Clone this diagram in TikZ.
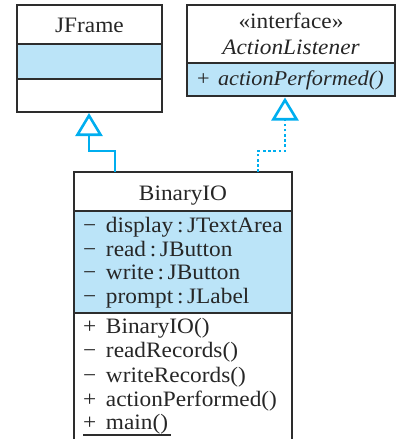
\documentclass[tikz,border=0pt]{standalone}
\usepackage{fontspec}
\setmainfont{Liberation Serif}[FakeStretch=1.06]
\usetikzlibrary{arrows.meta}
\definecolor{umlcyan}{RGB}{0,174,239}
\definecolor{umlfill}{RGB}{187,228,248}
\definecolor{umlline}{RGB}{45,45,45}
\newcommand{\vis}[1]{\makebox[23pt][l]{#1}}
\begin{document}
\begin{tikzpicture}[x=1pt,y=-1pt,
  boxline/.style={draw=umlline, line width=1.3pt},
  umlbox/.style={boxline, rectangle, inner sep=0pt, outer sep=0pt, anchor=north west},
  txt/.style={inner sep=0pt, outer sep=0pt, font=\fontsize{22}{24}\selectfont, text=black!85},
  member/.style={txt, anchor=base west},
  title/.style={txt, anchor=base},
  gen/.style={draw=umlcyan, line width=2.6pt, -{Triangle[open, length=23pt, width=27pt, line width=2.6pt]}},
  real/.style={gen, dash pattern=on 2.6pt off 2.6pt}
]
\useasboundingbox (0,0) rectangle (404,439);
% compartment fills
\fill[umlfill] (17,44) rectangle (162,79);
\fill[umlfill] (187,63) rectangle (395,96);
\fill[umlfill] (74,211) rectangle (292,313);
% boxes
\node[umlbox, minimum width=145pt, minimum height=107pt] (jframe) at (17,5) {};
\node[umlbox, minimum width=208pt, minimum height=91pt] (listener) at (187,5) {};
\node[umlbox, minimum width=218pt, minimum height=272pt] (binio) at (74,172) {};
% compartment lines
\draw[boxline] (17,44) -- (162,44);
\draw[boxline] (17,79) -- (162,79);
\draw[boxline] (187,63) -- (395,63);
\draw[boxline] (74,211) -- (292,211);
\draw[boxline] (74,313) -- (292,313);
% texts
\node[title] (tjf) at (89.5,32) {JFrame};
\node[title] (tst) at (291,28) {«interface»};
\node[title] (tal) at (291,54) {\itshape ActionListener};
\node[member, font=\fontsize{21}{24}\selectfont] (tap) at (197,85) {\makebox[21pt][l]{+}\itshape actionPerformed()};
\node[title] (tbn) at (183,200) {BinaryIO};
\node[member] (a1) at (83,232) {\vis{−}display\,:\,JTextArea};
\node[member] (a2) at (83,256) {\vis{−}read\,:\,JButton};
\node[member] (a3) at (83,279.5) {\vis{−}write\,:\,JButton};
\node[member] (a4) at (83,303) {\vis{−}prompt\,:\,JLabel};
\node[member] (m1) at (83,333) {\vis{+}BinaryIO()};
\node[member] (m2) at (83,357) {\vis{−}readRecords()};
\node[member] (m3) at (83,382) {\vis{−}writeRecords()};
\node[member] (m4) at (83,406) {\vis{+}actionPerformed()};
\node[member] (m5) at (83,429.5) {\vis{+}main()};
\draw[umlline, line width=1.2pt] (m5.base west) ++(0,5.5) -- ++(88,0);
% connectors
\coordinate (jfin) at (89,113);
\coordinate (alin) at (285,97.5);
\draw[gen] (binio.north west) ++(41,0) |- (89,151) -- (jfin);
\draw[real] (binio.north west) ++(184,0) |- (285,151) -- (alin);
\end{tikzpicture}
\end{document}
